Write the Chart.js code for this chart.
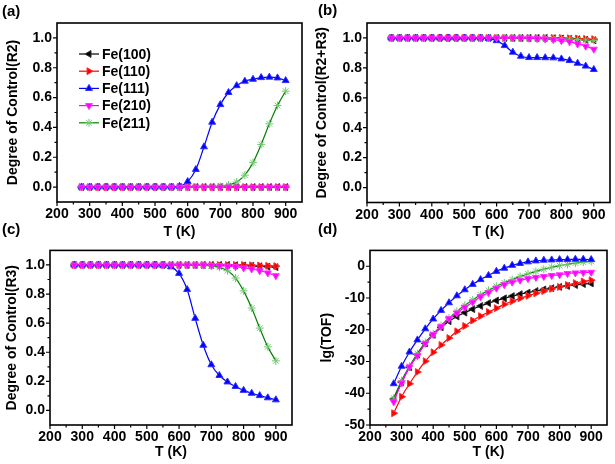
<!DOCTYPE html>
<html><head><meta charset="utf-8">
<script src="https://cdn.jsdelivr.net/npm/chart.js@4.4.1/dist/chart.umd.min.js"></script>
<style>
html,body{margin:0;padding:0;background:#fff;}
#wrap{position:relative;width:615px;height:464px;overflow:hidden;background:#fff;}
canvas{position:absolute;}
.lbl{position:absolute;font:bold 15px "Liberation Sans",Arial,sans-serif;color:#000;line-height:17px;}
</style></head><body>
<div id="wrap">
<canvas id="ca" width="310" height="244" style="left:0;top:0"></canvas>
<canvas id="cb" width="310" height="244" style="left:305px;top:0"></canvas>
<canvas id="cc" width="310" height="224" style="left:0;top:240px"></canvas>
<canvas id="cd" width="310" height="224" style="left:305px;top:240px"></canvas>
<div class="lbl" style="left:2px;top:2px">(a)</div>
<div class="lbl" style="left:318px;top:1px">(b)</div>
<div class="lbl" style="left:2px;top:220px">(c)</div>
<div class="lbl" style="left:318px;top:220px">(d)</div>
</div>
<script>
// ---------- data ----------
const temperatures = [275,300,325,350,375,400,425,450,475,500,525,550,575,600,625,650,675,700,725,750,775,800,825,850,875,900];
const facetLabels = ['Fe(100)','Fe(110)','Fe(111)','Fe(210)','Fe(211)'];

// (a) Degree of Control (R2)
const r2_fe100 = [0,0,0,0,0,0,0,0,0,0,0,0,0,0,0,0,0,0,0,0,0,0,0,0,0,0];
const r2_fe110 = [0,0,0,0,0,0,0,0,0,0,0,0,0,0,0,0,0,0,0,0,0,0,0,0,0,0];
const r2_fe111 = [0,0,0,0,0,0,0,0,0,0,0,0,0.005,0.037,0.118,0.27,0.435,0.553,0.634,0.68,0.71,0.723,0.734,0.737,0.732,0.714];
const r2_fe210 = [0,0,0,0,0,0,0,0,0,0,0,0,0,0,0,0,0,0,0,0,0,0,0,0,0,0];
const r2_fe211 = [0,0,0,0,0,0,0,0,0,0,0,0,0,0,0,0,0,0.004,0.014,0.034,0.08,0.164,0.286,0.424,0.547,0.643];

// (b) Degree of Control (R2+R3)
const r23_fe100 = [1,1,1,1,1,1,1,1,1,1,1,1,1,1,1,1,1,1,1,1,0.998,0.996,0.994,0.991,0.988,0.985];
const r23_fe110 = [1,1,1,1,1,1,1,1,1,1,1,1,1,1,1,1,1,1,1,1,1,1,0.998,0.996,0.994,0.992];
const r23_fe111 = [1,1,1,1,1,1,1,1,1,1,1,1,0.997,0.982,0.949,0.905,0.878,0.869,0.869,0.868,0.867,0.86,0.849,0.831,0.812,0.789];
const r23_fe210 = [1,1,1,1,1,1,1,1,1,1,1,1,1,1,1,1,1,0.998,0.996,0.993,0.989,0.982,0.975,0.96,0.945,0.925];
const r23_fe211 = [1,1,1,1,1,1,1,1,1,1,1,1,1,1,1,1,1,1,1,1,0.998,0.996,0.993,0.99,0.986,0.982];

// (c) Degree of Control (R3)
const r3_fe100 = [1,1,1,1,1,1,1,1,1,1,1,1,1,1,1,1,1,1,1,1,0.998,0.996,0.994,0.991,0.988,0.985];
const r3_fe110 = [1,1,1,1,1,1,1,1,1,1,1,1,1,1,1,1,1,1,1,1,1,1,0.998,0.996,0.994,0.992];
const r3_fe111 = [1,1,1,1,1,1,1,1,1,1,1,0.998,0.987,0.942,0.831,0.633,0.448,0.314,0.24,0.196,0.165,0.138,0.118,0.102,0.087,0.073];
const r3_fe210 = [1,1,1,1,1,1,1,1,1,1,1,1,1,1,1,1,1,0.998,0.996,0.992,0.988,0.98,0.972,0.96,0.945,0.926];
const r3_fe211 = [1,1,1,1,1,1,1,1,1,1,1,1,1,1,1,1,0.998,0.994,0.984,0.96,0.91,0.822,0.704,0.566,0.437,0.341];

// (d) lg(TOF)
const tof_fe100 = [-41.8,-36.5,-31.8,-27.8,-24.3,-21.6,-19.2,-17.3,-15.8,-14.6,-13.5,-12.5,-11.6,-10.8,-10.1,-9.4,-8.8,-8.3,-7.8,-7.3,-6.9,-6.5,-6.2,-5.9,-5.6,-5.4];
const tof_fe110 = [-46.3,-41.1,-37.0,-33.3,-29.9,-27.1,-24.8,-22.6,-20.5,-18.8,-17.1,-15.7,-14.4,-13.2,-12.0,-11.0,-10.1,-9.3,-8.5,-7.8,-7.1,-6.5,-5.9,-5.3,-4.8,-4.4];
const tof_fe111 = [-37.0,-31.5,-27.0,-23.2,-19.7,-16.6,-13.9,-11.5,-9.3,-7.4,-5.7,-4.2,-2.9,-1.6,-0.6,0.3,0.9,1.4,1.7,1.9,2.0,2.1,2.1,2.2,2.2,2.1];
const tof_fe210 = [-42.7,-36.8,-31.7,-28.2,-24.3,-21.5,-19.0,-16.5,-14.7,-12.9,-11.3,-9.6,-8.3,-6.9,-5.8,-5.0,-4.4,-3.9,-3.5,-3.2,-2.9,-2.7,-2.3,-2.1,-2.0,-1.9];
const tof_fe211 = [-41.5,-36.0,-31.5,-27.5,-24.0,-21.3,-18.7,-16.3,-14.2,-12.3,-10.6,-9.0,-7.6,-6.3,-5.2,-4.2,-3.2,-2.4,-1.6,-0.9,-0.3,0.2,0.6,1.0,1.3,1.5];

// ticks
const xTicks = [200,300,400,500,600,700,800,900];
const xMinorTicks = [250,350,450,550,650,750,850];
const docTicks = [0,0.2,0.4,0.6,0.8,1.0];
const docMinorTicks = [0.1,0.3,0.5,0.7,0.9];
const tofTicks = [-50,-40,-30,-20,-10,0];
const tofMinorTicks = [-45,-35,-25,-15,-5];

// ---------- styles ----------
const FONT = '"Liberation Sans", Arial, sans-serif';
const seriesStyle = [
  {line:'#000000', fill:'#000000', edge:'#333333', shape:'triangle', rot:-90, order:5},
  {line:'#ff0000', fill:'#ff0000', edge:'#ff3030', shape:'triangle', rot:90, order:4},
  {line:'#0000ff', fill:'#0000ff', edge:'#3030ff', shape:'triangle', rot:0, order:2},
  {line:'#ff00ff', fill:'#ff00ff', edge:'#ff30ff', shape:'triangle', rot:180, order:1},
  {line:'#008000', fill:'#70c870', edge:'#70c870', shape:'star', rot:0, order:3}
];

const framePlugin = {
  id: 'frameTicks',
  afterDraw(chart, args, o) {
    const {ctx, chartArea:{left,right,top,bottom}, scales:{x,y}} = chart;
    ctx.save();
    ctx.strokeStyle = '#000';
    ctx.lineWidth = 1.2;
    ctx.beginPath();
    xTicks.forEach(v => { const p = x.getPixelForValue(v); ctx.moveTo(p,bottom); ctx.lineTo(p,bottom+4); });
    xMinorTicks.forEach(v => { const p = x.getPixelForValue(v); ctx.moveTo(p,bottom); ctx.lineTo(p,bottom+2.5); });
    o.yMajor.forEach(v => { const p = y.getPixelForValue(v); ctx.moveTo(left,p); ctx.lineTo(left-4,p); });
    o.yMinor.forEach(v => { const p = y.getPixelForValue(v); ctx.moveTo(left,p); ctx.lineTo(left-2.5,p); });
    ctx.stroke();
    ctx.lineWidth = 1.6;
    ctx.strokeRect(left, top, right-left, bottom-top);
    ctx.restore();
  }
};

const legendPlugin = {
  id: 'insideLegend',
  afterDatasetsDraw(chart, args, o) {
    if (!o.show) return;
    const {ctx, chartArea:{left,top}} = chart;
    ctx.save();
    ctx.font = 'bold 14px ' + FONT;
    ctx.textBaseline = 'middle';
    ctx.textAlign = 'left';
    chart.data.datasets.forEach((ds, i) => {
      const yy = top + 31 + i * 17.2;
      const x0 = left + 22, x1 = left + 42;
      ctx.strokeStyle = ds.borderColor; ctx.lineWidth = 1.2;
      ctx.beginPath(); ctx.moveTo(x0, yy); ctx.lineTo(x1, yy); ctx.stroke();
      ctx.fillStyle = ds.pointBackgroundColor; ctx.strokeStyle = ds.pointBorderColor; ctx.lineWidth = 1;
      Chart.helpers.drawPoint(ctx, {pointStyle: ds.pointStyle, rotation: ds.pointRotation, radius: 4, borderWidth: 1}, (x0+x1)/2, yy);
      ctx.fillStyle = '#000';
      ctx.fillText(ds.label, x1 + 3, yy + 1);
    });
    ctx.restore();
  }
};

function makePanel(id, series, p) {
  const canvas = document.getElementById(id);
  const W = canvas.width, H = canvas.height;
  const datasets = series.map((vals, i) => {
    const s = seriesStyle[i];
    return {
      label: facetLabels[i],
      data: temperatures.map((t, k) => ({x: t, y: vals[k]})),
      borderColor: s.line, borderWidth: 1.2,
      pointBackgroundColor: s.fill, pointBorderColor: s.edge, pointBorderWidth: 1,
      pointStyle: s.shape, pointRotation: s.rot, pointRadius: 4,
      cubicInterpolationMode: 'monotone', order: s.order, clip: false
    };
  });
  const tickFont = {family: FONT, size: 14, weight: 'bold'};
  new Chart(canvas, {
    type: 'line',
    data: {datasets},
    options: {
      responsive: false, animation: false, devicePixelRatio: 1,
      layout: {padding: {left: 0, top: p.area.top, right: W - p.area.right, bottom: 0}},
      plugins: {legend: {display: false}, tooltip: {enabled: false},
        frameTicks: {yMajor: p.yTicks, yMinor: p.yMinor},
        insideLegend: {show: !!p.legend}},
      scales: {
        x: {
          type: 'linear', min: 200, max: 950,
          afterBuildTicks: s => { s.ticks = xTicks.map(v => ({value: v})); },
          afterFit: s => { s.height = H - p.area.bottom; },
          grid: {display: false, drawTicks: true, tickLength: 3},
          border: {display: false},
          ticks: {font: tickFont, color: '#000', padding: 1, maxRotation: 0, autoSkip: false, callback: v => String(v)},
          title: {display: true, text: 'T (K)', color: '#000', font: {family: FONT, size: 14, weight: 'bold'}, padding: {top: 0, bottom: 3.6}}
        },
        y: {
          type: 'linear', min: p.yMin, max: p.yMax,
          afterBuildTicks: s => { s.ticks = p.yTicks.map(v => ({value: v})); },
          afterFit: s => { s.width = p.area.left; },
          grid: {display: false, drawTicks: true, tickLength: 3},
          border: {display: false},
          ticks: {font: tickFont, color: '#000', padding: 2, autoSkip: false, callback: p.fmt},
          title: {display: true, text: p.title, color: '#000', font: {family: FONT, size: 14, weight: 'bold'}, padding: {top: p.titlePad, bottom: 0}}
        }
      }
    },
    plugins: [framePlugin, legendPlugin]
  });
}

const fmt1 = v => v.toFixed(1);
const fmt0 = v => String(v);

makePanel('ca', [r2_fe100, r2_fe110, r2_fe111, r2_fe210, r2_fe211],
  {area: {left: 57, right: 302, top: 23, bottom: 202}, yMin: -0.1, yMax: 1.1, yTicks: docTicks, yMinor: docMinorTicks, fmt: fmt1, title: 'Degree of Control(R2)', titlePad: 5.1, legend: true});
makePanel('cb', [r23_fe100, r23_fe110, r23_fe111, r23_fe210, r23_fe211],
  {area: {left: 62, right: 305, top: 23, bottom: 202.5}, yMin: -0.1, yMax: 1.1, yTicks: docTicks, yMinor: docMinorTicks, fmt: fmt1, title: 'Degree of Control(R2+R3)', titlePad: 9.1});
makePanel('cc', [r3_fe100, r3_fe110, r3_fe111, r3_fe210, r3_fe211],
  {area: {left: 50, right: 292, top: 5, bottom: 185}, yMin: -0.1, yMax: 1.1, yTicks: docTicks, yMinor: docMinorTicks, fmt: fmt1, title: 'Degree of Control(R3)', titlePad: 4.1});
makePanel('cd', [tof_fe100, tof_fe110, tof_fe111, tof_fe210, tof_fe211],
  {area: {left: 65, right: 302, top: 5, bottom: 185}, yMin: -50, yMax: 5, yTicks: tofTicks, yMinor: tofMinorTicks, fmt: fmt0, title: 'lg(TOF)', titlePad: 13.3});
</script>
</body></html>
